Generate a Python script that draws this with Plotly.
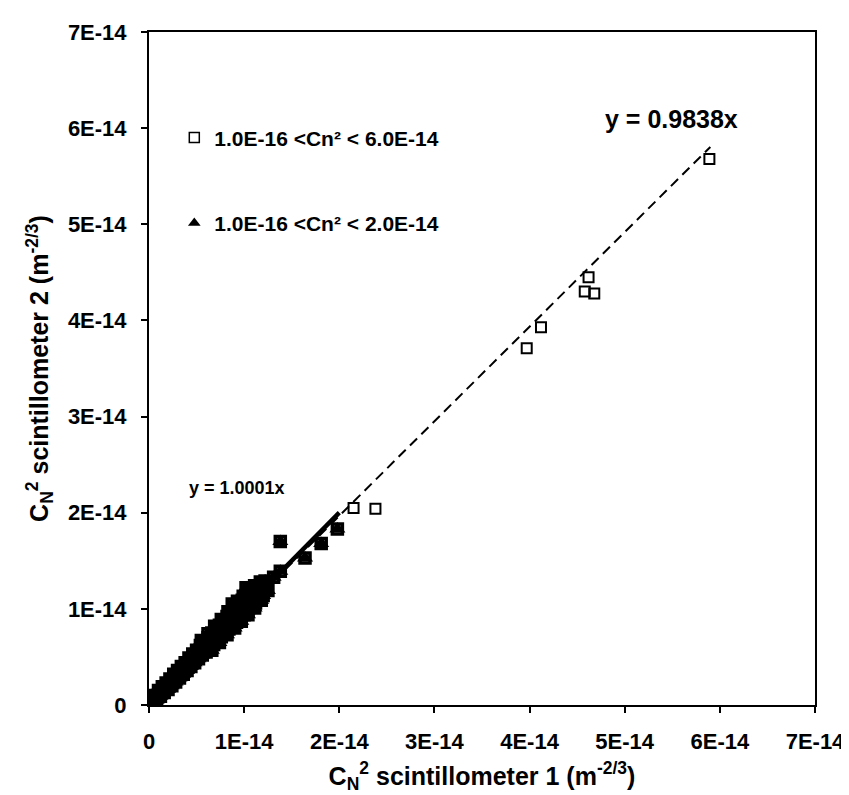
import plotly.graph_objects as go

UNIT = 1e-14  # values below are in units of 1E-14 m^-2/3

# Dense band of points (Cn2 < 2.0E-14) - core, edges and scattered points
core_x = [0.01, 0.03, 0.05, 0.07, 0.09, 0.11, 0.13, 0.15, 0.17, 0.19, 0.21, 0.23, 0.25, 0.27, 0.29,
          0.31, 0.33, 0.35, 0.37, 0.39, 0.41, 0.43, 0.45, 0.47, 0.49, 0.51, 0.53, 0.55, 0.57, 0.59,
          0.61, 0.63, 0.65, 0.67, 0.69, 0.71, 0.73, 0.75, 0.77, 0.79, 0.81, 0.83, 0.85, 0.87, 0.89,
          0.91, 0.93, 0.95, 0.97, 0.99, 1.01, 1.03, 1.05, 1.07, 1.09, 1.11, 1.13, 1.16, 1.19, 1.22]
core_y = [0.01, 0.03, 0.06, 0.07, 0.10, 0.11, 0.14, 0.15, 0.18, 0.19, 0.22, 0.23, 0.26, 0.27, 0.30,
          0.31, 0.34, 0.35, 0.38, 0.40, 0.42, 0.44, 0.46, 0.48, 0.50, 0.52, 0.54, 0.56, 0.58, 0.60,
          0.62, 0.64, 0.67, 0.68, 0.70, 0.72, 0.75, 0.76, 0.78, 0.81, 0.82, 0.85, 0.86, 0.88, 0.91,
          0.92, 0.95, 0.96, 0.98, 1.01, 1.02, 1.05, 1.06, 1.08, 1.11, 1.12, 1.15, 1.17, 1.20, 1.23]
upper_x = [0.02, 0.06, 0.10, 0.14, 0.18, 0.22, 0.26, 0.30, 0.34, 0.38, 0.42, 0.46, 0.50, 0.54,
           0.58, 0.62, 0.66, 0.70, 0.74, 0.78, 0.82, 0.86, 0.90, 0.94, 0.98, 1.02, 1.06, 1.10,
           1.14, 1.18, 1.22]
upper_y = [0.05, 0.10, 0.15, 0.19, 0.23, 0.27, 0.32, 0.36, 0.40, 0.44, 0.49, 0.53, 0.57, 0.62,
           0.66, 0.70, 0.75, 0.79, 0.83, 0.88, 0.92, 0.97, 1.01, 1.05, 1.09, 1.14, 1.17, 1.21,
           1.24, 1.27, 1.29]
upper2_x = [0.55, 0.62, 0.69, 0.76, 0.83, 0.88, 0.93, 0.99, 1.05, 1.11, 1.17]
upper2_y = [0.67, 0.74, 0.82, 0.89, 0.97, 1.02, 1.08, 1.13, 1.19, 1.24, 1.28]
lower_x = [0.04, 0.08, 0.12, 0.16, 0.20, 0.24, 0.28, 0.32, 0.36, 0.40, 0.44, 0.48, 0.52, 0.56,
           0.60, 0.64, 0.68, 0.72, 0.76, 0.80, 0.84, 0.88, 0.92, 0.96, 1.00, 1.04, 1.08, 1.12,
           1.16, 1.20, 1.25]
lower_y = [0.01, 0.05, 0.09, 0.13, 0.16, 0.20, 0.24, 0.28, 0.32, 0.36, 0.40, 0.44, 0.48, 0.52,
           0.55, 0.59, 0.63, 0.67, 0.71, 0.75, 0.79, 0.83, 0.86, 0.90, 0.94, 0.98, 1.02, 1.06,
           1.10, 1.14, 1.19]
lower2_x = [0.66, 0.74, 0.82, 0.90, 0.97, 1.04, 1.11, 1.18]
lower2_y = [0.57, 0.65, 0.73, 0.80, 0.87, 0.94, 1.01, 1.09]
scatter_x = [0.875, 1.02, 1.31, 1.38, 1.38, 1.64, 1.81, 1.98]
scatter_y = [1.05, 1.22, 1.33, 1.39, 1.70, 1.53, 1.68, 1.83]

# Points only in the wide range (2.0E-14 .. 6.0E-14)
high_x = [2.15, 2.38, 3.97, 4.12, 4.58, 4.62, 4.68, 5.89]
high_y = [2.05, 2.04, 3.71, 3.93, 4.30, 4.45, 4.28, 5.68]

# Regression lines
slope_all = 0.9838
slope_low = 1.0001
fit_all_range = [0.0, 5.90]
fit_low_range = [0.0, 2.0]

tick_vals = [0, 1, 2, 3, 4, 5, 6, 7]
tick_text = ["0", "1E-14", "2E-14", "3E-14", "4E-14", "5E-14", "6E-14", "7E-14"]

legend_all = "1.0E-16 <Cn² < 6.0E-14"
legend_low = "1.0E-16 <Cn² < 2.0E-14"
eq_all = "y = 0.9838x"
eq_low = "y = 1.0001x"

low_x = core_x + upper_x + upper2_x + lower_x + lower2_x + scatter_x
low_y = core_y + upper_y + upper2_y + lower_y + lower2_y + scatter_y

sc = lambda v: [a * UNIT for a in v]

FONT = "Liberation Sans, Arial, Helvetica, sans-serif"

fig = go.Figure()
fig.add_trace(go.Scatter(
    x=sc(fit_all_range), y=sc([slope_all * a for a in fit_all_range]),
    mode="lines", line=dict(color="black", width=2, dash="10px,6px"),
    showlegend=False, hoverinfo="skip"))
fig.add_trace(go.Scatter(
    x=sc(fit_low_range), y=sc([slope_low * a for a in fit_low_range]),
    mode="lines", line=dict(color="black", width=4.5),
    showlegend=False, hoverinfo="skip"))
# open squares: whole range
fig.add_trace(go.Scatter(
    x=sc(high_x), y=sc(high_y), mode="markers", showlegend=False, legendgroup="a",
    marker=dict(symbol="square-open", size=10, color="black", line=dict(width=2, color="black"))))
fig.add_trace(go.Scatter(
    x=sc(low_x), y=sc(low_y), mode="markers", showlegend=False, legendgroup="a",
    marker=dict(symbol="square-open", size=10, color="black", line=dict(width=3.5, color="black"))))
# filled triangles: low range
fig.add_trace(go.Scatter(
    x=sc(low_x), y=sc(low_y), mode="markers", showlegend=False, legendgroup="b",
    marker=dict(symbol="triangle-up", size=14, color="black", line=dict(width=0))))
# legend entries
fig.add_trace(go.Scatter(
    x=[None], y=[None], mode="markers", name=legend_all, legendgroup="a",
    marker=dict(symbol="square-open", size=10, color="black", line=dict(width=1.5, color="black"))))
fig.add_trace(go.Scatter(
    x=[None], y=[None], mode="markers", name=legend_low, legendgroup="b",
    marker=dict(symbol="triangle-up", size=11, color="black", line=dict(width=0))))

fig.add_annotation(x=5.49 * UNIT, y=6.1 * UNIT, text="<b>" + eq_all + "</b>", showarrow=False,
                   font=dict(family=FONT, size=25, color="black"))
fig.add_annotation(x=0.93 * UNIT, y=2.26 * UNIT, text="<b>" + eq_low + "</b>", showarrow=False,
                   font=dict(family=FONT, size=18, color="black"))

axis_common = dict(
    range=[0, 7 * UNIT], tickvals=sc(tick_vals), ticktext=tick_text,
    showgrid=False, zeroline=False, showline=True, linecolor="black", linewidth=2,
    mirror=True, ticks="outside", ticklen=6, tickwidth=1.5, tickcolor="black",
    tickfont=dict(family=FONT, size=22, color="black", weight="bold"),
)
fig.update_xaxes(**axis_common, ticklabelstandoff=10,
                 title=dict(text="<b>C<sub>N</sub><sup>2</sup> scintillometer 1 (m<sup>-2/3</sup>)</b>",
                            font=dict(family=FONT, size=25, color="black"), standoff=14))
fig.update_yaxes(**axis_common, ticklabelstandoff=10,
                 title=dict(text="<b>C<sub>N</sub><sup>2</sup> scintillometer 2 (m<sup>-2/3</sup>)</b>",
                            font=dict(family=FONT, size=25, color="black"), standoff=12))

fig.update_layout(
    width=849, height=795,
    margin=dict(l=141, r=36, t=18, b=98),
    paper_bgcolor="white", plot_bgcolor="white",
    showlegend=True,
    legend=dict(x=0.038, y=0.873, xanchor="left", yanchor="top", bgcolor="rgba(0,0,0,0)",
                font=dict(family=FONT, size=21, color="black", weight="bold"),
                tracegroupgap=55, itemsizing="trace"),
)

fig.write_html("out.html")
